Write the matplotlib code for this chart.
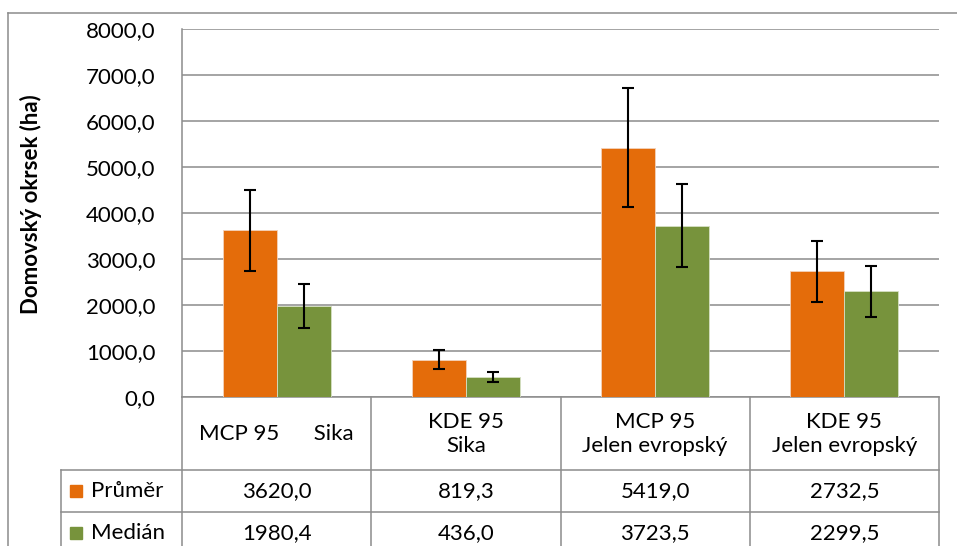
import matplotlib
matplotlib.use("Agg")
import matplotlib.pyplot as plt
from matplotlib.lines import Line2D
from matplotlib.patches import Rectangle
from matplotlib.transforms import blended_transform_factory
import numpy as np

# --- data -------------------------------------------------------------
categories = ["MCP 95      Sika", "KDE 95\nSika",
              "MCP 95\nJelen evropský", "KDE 95\nJelen evropský"]
series_names = ["Průměr", "Medián"]
mean_vals = [3620.0, 819.3, 5419.0, 2732.5]
median_vals = [1980.4, 436.0, 3723.5, 2299.5]
mean_err = [870, 200, 1300, 655]
median_err = [475, 105, 895, 555]
y_ticks = [0, 1000, 2000, 3000, 4000, 5000, 6000, 7000, 8000]
y_label = "Domovský okrsek (ha)"

# --- style ------------------------------------------------------------
ORANGE = "#E46C0A"
GREEN = "#77933C"
GRID = "#8c8c8c"
FONT = "Lato"
FS = 16

W, H = 957, 546
fig = plt.figure(figsize=(W / 100, H / 100), dpi=100)


def fx(px):
    return px / W


def fy(py):
    return 1 - py / H


# plot area
x0, x1 = 182, 939
y_top, y_bot = 28.6, 397.3
ax = fig.add_axes([fx(x0), fy(y_bot), fx(x1) - fx(x0), fy(y_top) - fy(y_bot)])

n = len(categories)
x = np.arange(n)
bw = 0.285
err_kw = dict(ecolor="black", elinewidth=1.5, capsize=4.5, capthick=1.5)
ax.bar(x - bw / 2, mean_vals, bw, color=ORANGE, edgecolor="#f3d2bb",
       linewidth=0.6, yerr=mean_err, error_kw=err_kw, zorder=3)
ax.bar(x + bw / 2, median_vals, bw, color=GREEN, edgecolor="#d6e0c4",
       linewidth=0.6, yerr=median_err, error_kw=err_kw, zorder=3)

ax.set_xlim(-0.5, n - 0.5)
ax.set_ylim(0, 8000)
ax.set_yticks(y_ticks)
ax.set_yticklabels([f"{v:.1f}".replace(".", ",") for v in y_ticks],
                   fontsize=FS, fontfamily=FONT)
ax.tick_params(axis="y", length=0, pad=19)
ax.set_xticks([])
ax.yaxis.grid(True, color=GRID, linewidth=1.1, zorder=0)
ax.set_axisbelow(True)
for side in ["top", "right"]:
    ax.spines[side].set_visible(False)
for side in ["left", "bottom"]:
    ax.spines[side].set_color(GRID)
    ax.spines[side].set_linewidth(1.1)

fig.text(fx(31), fy(204), y_label, rotation=90, ha="center", va="center",
         fontsize=16, fontweight="bold", fontfamily=FONT)

# --- data table below the axis ---------------------------------------
def fline(xa, ya, xb, yb):
    fig.add_artist(Line2D([fx(xa), fx(xb)], [fy(ya), fy(yb)],
                          color=GRID, linewidth=1.1,
                          transform=fig.transFigure))


row_head_bot = 470
row1_bot = 512
leg_left = 61
for xb in np.linspace(x0, x1, n + 1):
    fline(xb, y_bot, xb, H + 2)
fline(leg_left, row_head_bot, x1, row_head_bot)
fline(leg_left, row1_bot, x1, row1_bot)
fline(leg_left, row_head_bot, leg_left, H + 2)

# outer chart frame
fline(8, 12.5, W + 2, 12.5)
fline(8, 12.5, 8, H + 2)

tr = blended_transform_factory(ax.transData, fig.transFigure)
for i, cat in enumerate(categories):
    fig.text(x[i], fy(434), cat, transform=tr, ha="center", va="center",
             fontsize=FS, fontfamily=FONT, linespacing=1.3)
    fig.text(x[i], fy(491), f"{mean_vals[i]:.1f}".replace(".", ","),
             transform=tr, ha="center", va="center",
             fontsize=FS, fontfamily=FONT)
    fig.text(x[i], fy(533), f"{median_vals[i]:.1f}".replace(".", ","),
             transform=tr, ha="center", va="center",
             fontsize=FS, fontfamily=FONT)

for name, color, yc in [(series_names[0], ORANGE, 491),
                        (series_names[1], GREEN, 533)]:
    fig.add_artist(Rectangle((fx(70), fy(yc + 6)), fx(12), 12 / H,
                             color=color, transform=fig.transFigure))
    fig.text(fx(91), fy(yc), name, ha="left", va="center",
             fontsize=FS, fontfamily=FONT)

fig.savefig("out.png", dpi=100)
